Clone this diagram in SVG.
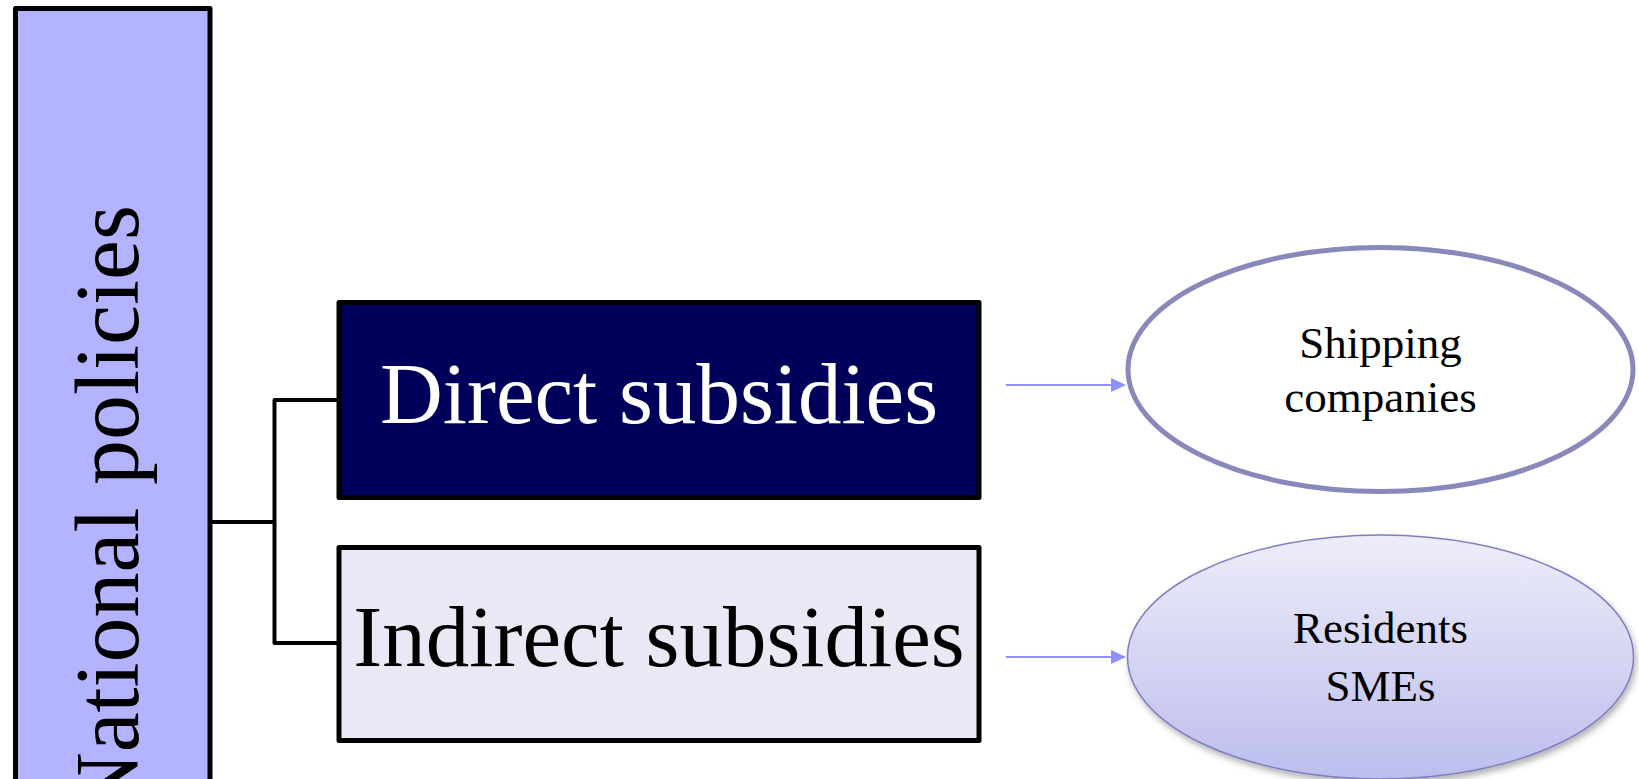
<svg xmlns="http://www.w3.org/2000/svg" width="1639" height="779" viewBox="0 0 1639 779">
  <style>
    .box { stroke: #000000; stroke-width: 5; stroke-linejoin: round; }
    .serif { font-family: "Liberation Serif", "DejaVu Serif", serif; }
    .big { font-size: 87px; text-anchor: middle; }
    .small { font-size: 45px; text-anchor: middle; fill: #000000; }
    .tree { fill: none; stroke: #000000; stroke-width: 4; stroke-linejoin: round; }
    .arrow { stroke: #8f8fff; stroke-width: 2; marker-end: url(#head); }
  </style>
  <defs>
    <marker id="head" markerUnits="userSpaceOnUse" markerWidth="15" markerHeight="14" refX="5" refY="7" orient="auto">
      <path d="M0,0 L15,7 L0,14 Z" fill="#8f8fff"/>
    </marker>
    <linearGradient id="lavender" x1="0" y1="0" x2="0" y2="1">
      <stop offset="0" stop-color="#ededf9"/>
      <stop offset="1" stop-color="#bdbdee"/>
    </linearGradient>
    <filter id="shadow" x="-10%" y="-10%" width="125%" height="130%">
      <feDropShadow dx="2" dy="4" stdDeviation="3" flood-color="#000000" flood-opacity="0.3"/>
    </filter>
  </defs>

  <rect width="1639" height="779" fill="#ffffff"/>

  <!-- connectors -->
  <g id="connectors">
    <polyline class="tree" points="210,522 274.5,522"/>
    <polyline class="tree" points="339,400 274.5,400 274.5,643 339,643"/>
    <line class="arrow" x1="1006" y1="385" x2="1116" y2="385"/>
    <line class="arrow" x1="1006" y1="657" x2="1116" y2="657"/>
  </g>

  <!-- root: National policies (runs past the lower edge) -->
  <g id="national-policies">
    <rect class="box" x="15.5" y="8.5" width="194.5" height="860" fill="#b3b3ff"/>
    <text class="serif" transform="translate(138,205) rotate(-90)" font-size="90" text-anchor="end" fill="#000000">National policies</text>
  </g>

  <!-- Direct subsidies -->
  <g id="direct-subsidies">
    <rect class="box" x="339" y="302.5" width="640" height="195" fill="#00005a"/>
    <text class="serif big" x="659" y="423" fill="#ffffff">Direct subsidies</text>
  </g>

  <!-- Indirect subsidies -->
  <g id="indirect-subsidies">
    <rect class="box" x="339" y="547.5" width="640" height="193" fill="#e9e9f5"/>
    <text class="serif big" x="659" y="666" fill="#000000">Indirect subsidies</text>
  </g>

  <!-- Shipping companies -->
  <g id="shipping-companies">
    <ellipse cx="1380.5" cy="369.5" rx="252.5" ry="122" fill="#ffffff" stroke="#8888bb" stroke-width="5"/>
    <text class="serif small" x="1380.5" y="358">Shipping</text>
    <text class="serif small" x="1380.5" y="412">companies</text>
  </g>

  <!-- Residents / SMEs -->
  <g id="residents-smes">
    <ellipse cx="1380.5" cy="657" rx="253" ry="122" fill="url(#lavender)" stroke="#7f7fbf" stroke-width="1.5" filter="url(#shadow)"/>
    <text class="serif small" x="1380.5" y="643">Residents</text>
    <text class="serif small" x="1380.5" y="701">SMEs</text>
  </g>
</svg>
